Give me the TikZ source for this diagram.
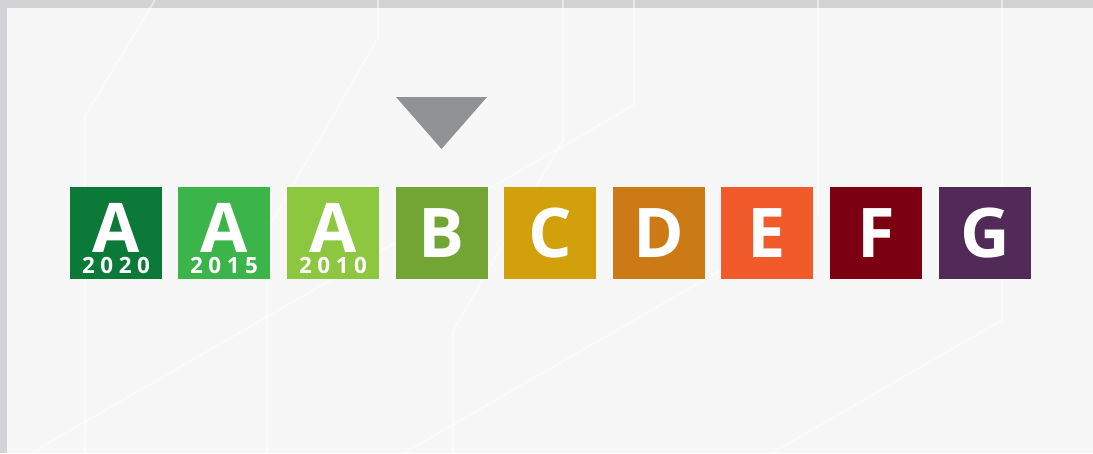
\documentclass[tikz,border=0pt]{standalone}
\usepackage{fontspec}
\setmainfont{Open Sans}
\definecolor{bgc}{HTML}{F7F7F7}
\definecolor{bandc}{HTML}{D2D3D5}
\definecolor{triC}{HTML}{909393}
\definecolor{cAa}{HTML}{0B7A38}
\definecolor{cAb}{HTML}{3BB54A}
\definecolor{cAc}{HTML}{8DC63F}
\definecolor{cB}{HTML}{72A533}
\definecolor{cC}{HTML}{D1A00A}
\definecolor{cD}{HTML}{CC7A16}
\definecolor{cE}{HTML}{F15A2B}
\definecolor{cF}{HTML}{7B0012}
\definecolor{cG}{HTML}{522A58}
\tikzset{
  hexline/.style={draw=white, opacity=0.5, line width=1.6pt},
  classbox/.style={minimum width=92pt, minimum height=92pt, inner sep=0pt, outer sep=0pt},
  biglet/.style={text=white, anchor=base, inner sep=0pt, text height=49pt, text depth=0pt, font=\fontsize{68.5}{68.5}\selectfont\bfseries},
  yeartxt/.style={text=white, anchor=base, inner sep=0pt, text height=16pt, text depth=0pt, font=\fontsize{22.4}{22.4}\selectfont\bfseries}
}
\newcommand{\yr}[4]{#1\kern5.5pt#2\kern5.5pt#3\kern5.5pt#4}
\begin{document}
\begin{tikzpicture}[x=1pt,y=-1pt]
\useasboundingbox (0,0) rectangle (1093,453);
\fill[bandc] (0,0) rectangle (1093,453);
\fill[bgc] (7,8) rectangle (1093,453);
% faint background lines
\draw[hexline] (155,0) -- (85,116) -- (85,453);
\draw[hexline] (378,0) -- (378,38) -- (267,230) -- (267,453);
\draw[hexline] (563,0) -- (563,140) -- (453,331) -- (453,453);
\draw[hexline] (634,0) -- (634,105) -- (31,453);
\draw[hexline] (818,0) -- (818,214) -- (404,453);
\draw[hexline] (1002,0) -- (1002,320) -- (772,453);
% pointer
\fill[triC] (396,97) -- (487,97) -- (441.5,149) -- cycle;
% boxes
\node[classbox, fill=cAa, anchor=north west] (a20) at (70,187) {};
\node[classbox, fill=cAb, anchor=north west] (a15) at (178,187) {};
\node[classbox, fill=cAc, anchor=north west] (a10) at (287,187) {};
\node[classbox, fill=cB, anchor=north west] (b) at (396,187) {};
\node[classbox, fill=cC, anchor=north west] (c) at (504,187) {};
\node[classbox, fill=cD, anchor=north west] (d) at (613,187) {};
\node[classbox, fill=cE, anchor=north west] (e) at (721,187) {};
\node[classbox, fill=cF, anchor=north west] (f) at (830,187) {};
\node[classbox, fill=cG, anchor=north west] (g) at (939,187) {};
% labels
\node[biglet] (la20) at (116,252) {A};
\node[yeartxt] (ya20) at (116,273) {\yr2020};
\node[biglet] (la15) at (224,252) {A};
\node[yeartxt] (ya15) at (224,273) {\yr2015};
\node[biglet] (la10) at (333,252) {A};
\node[yeartxt] (ya10) at (333,273) {\yr2010};
\node[biglet] (lb) at (442,257) {B};
\node[biglet] (lc) at (550,257) {C};
\node[biglet] (ld) at (659,257) {D};
\node[biglet] (le) at (767,257) {E};
\node[biglet] (lf) at (876,257) {F};
\node[biglet] (lg) at (985,257) {G};
\end{tikzpicture}
\end{document}
